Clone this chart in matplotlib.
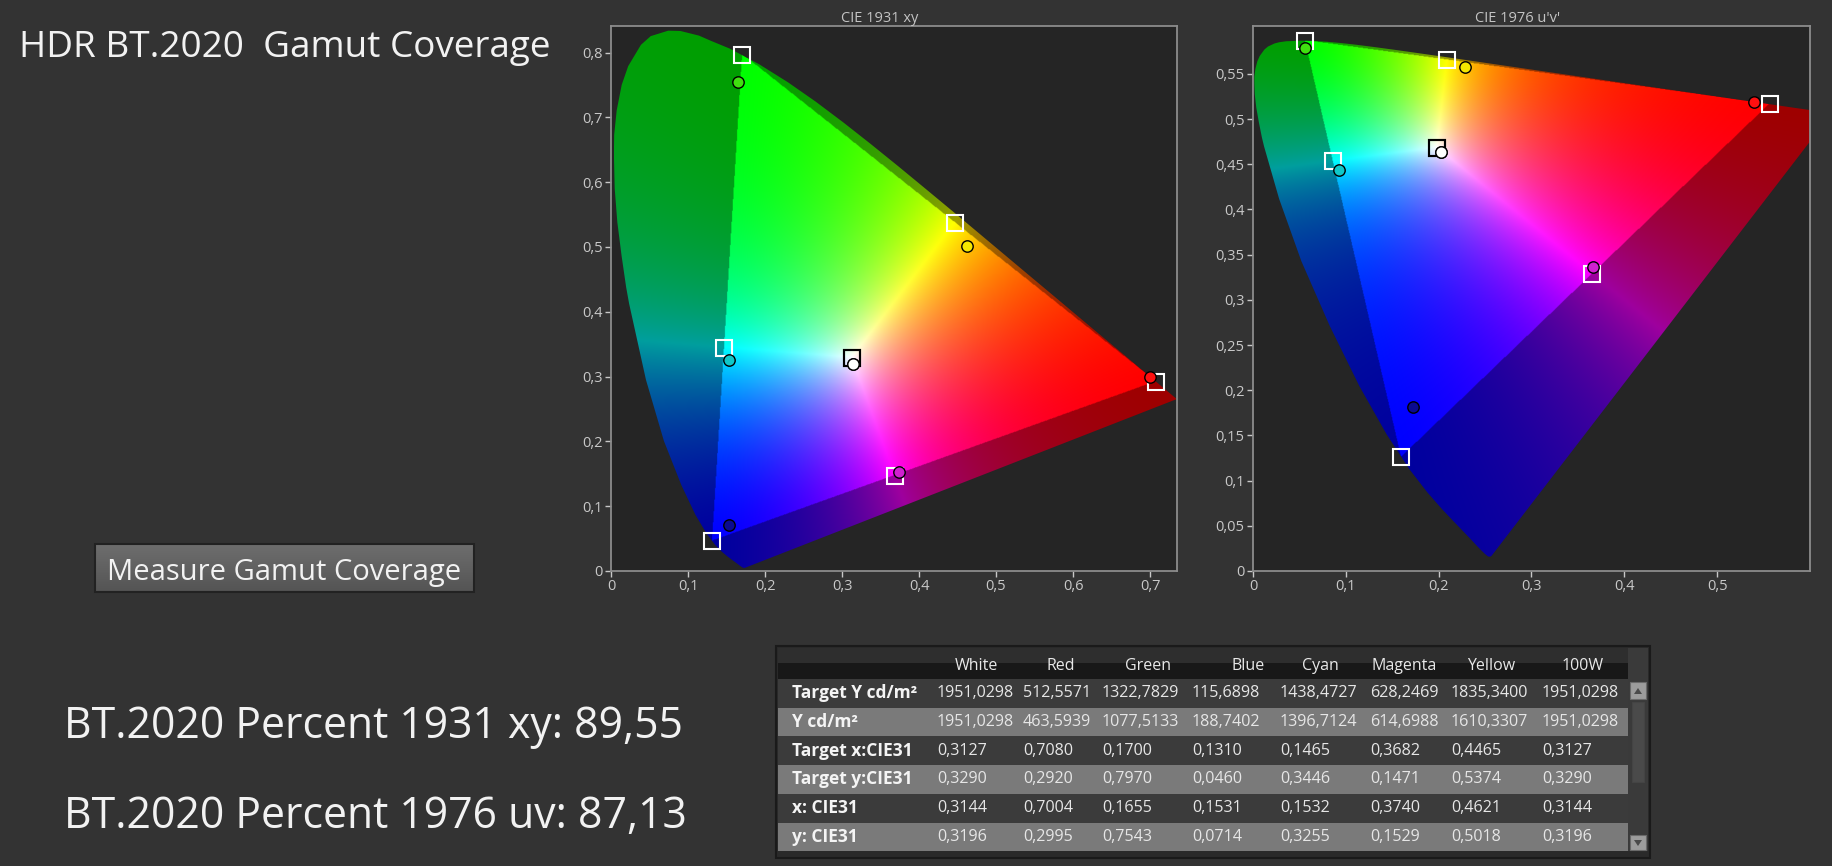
import numpy as np
import matplotlib
matplotlib.use("Agg")
import matplotlib.pyplot as plt
from matplotlib.patches import Polygon, Rectangle
from matplotlib.ticker import FuncFormatter

plt.rcParams['font.family'] = ['Open Sans', 'DejaVu Sans']

# CIE 1931 2-degree spectral locus, 380..700 nm (denser around the green peak)
LOCUS_X = [0.1741, 0.1740, 0.1738, 0.1736, 0.1733, 0.1730, 0.1726, 0.1721, 0.1714,
           0.1703, 0.1689, 0.1669, 0.1644, 0.1611, 0.1566, 0.1510, 0.1440, 0.1355,
           0.1241, 0.1096, 0.0913, 0.0687, 0.0454, 0.0235, 0.0197, 0.0138, 0.0082,
           0.0048, 0.0039, 0.0039, 0.0041, 0.0074, 0.0139, 0.0223, 0.0389, 0.0516,
           0.0743, 0.0902, 0.1142, 0.1298, 0.1547, 0.1929, 0.2296, 0.2658, 0.3016,
           0.3373, 0.3731, 0.4087, 0.4441, 0.4788, 0.5125, 0.5448, 0.5752, 0.6029,
           0.6270, 0.6482, 0.6658, 0.6801, 0.6915, 0.7006, 0.7079, 0.7140, 0.7190,
           0.7230, 0.7260, 0.7300, 0.7334, 0.7347]
LOCUS_Y = [0.0050, 0.0050, 0.0049, 0.0049, 0.0048, 0.0048, 0.0048, 0.0048, 0.0051,
           0.0058, 0.0069, 0.0086, 0.0109, 0.0138, 0.0177, 0.0227, 0.0297, 0.0399,
           0.0578, 0.0868, 0.1327, 0.2007, 0.2950, 0.4127, 0.4377, 0.4859, 0.5384,
           0.5903, 0.6355, 0.6548, 0.6731, 0.7108, 0.7502, 0.7790, 0.8120, 0.8254,
           0.8338, 0.8333, 0.8262, 0.8181, 0.8059, 0.7816, 0.7543, 0.7243, 0.6923,
           0.6589, 0.6245, 0.5896, 0.5547, 0.5202, 0.4866, 0.4544, 0.4242, 0.3965,
           0.3725, 0.3514, 0.3340, 0.3197, 0.3083, 0.2993, 0.2920, 0.2859, 0.2809,
           0.2770, 0.2740, 0.2700, 0.2666, 0.2653]

# XYZ -> BT.2020 linear RGB
M2020 = np.array([[1.7166512, -0.3556708, -0.2533663],
                  [-0.6666844, 1.6164812, 0.0157685],
                  [0.0176399, -0.0427706, 0.9421031]])

COLUMNS = ["White", "Red", "Green", "Blue", "Cyan", "Magenta", "Yellow", "100W"]
TARGET_LUM = [1951.0298, 512.5571, 1322.7829, 115.6898, 1438.4727, 628.2469, 1835.3400, 1951.0298]
MEAS_LUM = [1951.0298, 463.5939, 1077.5133, 188.7402, 1396.7124, 614.6988, 1610.3307, 1951.0298]
TARGET_X = [0.3127, 0.7080, 0.1700, 0.1310, 0.1465, 0.3682, 0.4465, 0.3127]
TARGET_Y = [0.3290, 0.2920, 0.7970, 0.0460, 0.3446, 0.1471, 0.5374, 0.3290]
MEAS_X = [0.3144, 0.7004, 0.1655, 0.1531, 0.1532, 0.3740, 0.4621, 0.3144]
MEAS_Y = [0.3196, 0.2995, 0.7543, 0.0714, 0.3255, 0.1529, 0.5018, 0.3196]
ROW_LABELS = ["Target Y cd/m²", "Y cd/m²", "Target x:CIE31", "Target y:CIE31", "x: CIE31", "y: CIE31"]
MEAS_COLORS = ["#ffffff", "#ff1010", "#40e010", "#0a0a90", "#10c8c8", "#d020d0", "#f5e800", "#ffffff"]
TARGET_EDGE = ["black", "white", "white", "white", "white", "white", "white", "black"]

COVERAGE_XY = 89.55
COVERAGE_UV = 87.13

BG = "#333333"
PLOT_BG = "#252525"
TICK_C = "#c8c8c8"


def comma(v, nd=None):
    s = f"{v:g}" if nd is None else f"{v:.{nd}f}"
    return s.replace(".", ",")


def xy_to_uv(x, y):
    x = np.asarray(x, float)
    y = np.asarray(y, float)
    d = -2 * x + 12 * y + 3
    return 4 * x / d, 9 * y / d


def uv_to_xy(u, v):
    d = 6 * u - 16 * v + 12
    return 9 * u / d, 4 * v / d


def gamut_rgb(px, py, dim=0.62, gamma=1.35):
    yy = np.where(py > 1e-4, py, 1e-4)
    XYZ = np.stack([px / yy, np.ones_like(px), (1 - px - py) / yy], -1)
    rgb = XYZ @ M2020.T
    inside = (rgb >= 0).all(-1)
    rgb = np.clip(rgb, 0, None)
    rgb = rgb / np.maximum(rgb.max(-1, keepdims=True), 1e-9)
    rgb = rgb ** gamma
    rgb[~inside] *= dim
    return np.clip(rgb, 0, 1)


def style_axes(ax, title, xt, yt, xlim, ylim):
    ax.set_facecolor(PLOT_BG)
    ax.set_xlim(*xlim)
    ax.set_ylim(*ylim)
    ax.set_xticks(xt)
    ax.set_yticks(yt)
    fmt = FuncFormatter(lambda v, p: comma(round(v, 3)))
    ax.xaxis.set_major_formatter(fmt)
    ax.yaxis.set_major_formatter(fmt)
    ax.tick_params(direction="out", length=4, width=1, color=TICK_C,
                   labelcolor=TICK_C, labelsize=10.5, pad=2)
    for sp in ax.spines.values():
        sp.set_color("#8c8c8c")
        sp.set_linewidth(1.3)
    ax.set_title(title, color="#c4c4c4", fontsize=10.5, pad=3, x=0.475)


def draw_points(ax, tx, ty, mx, my):
    for i in range(len(tx)):
        ax.plot(tx[i], ty[i], marker="s", ms=11.5, mfc="none",
                mec=TARGET_EDGE[i], mew=1.5, zorder=5)
    for i in range(len(mx)):
        ax.plot(mx[i], my[i], marker="o", ms=8.2, mfc=MEAS_COLORS[i],
                mec="black", mew=1.0, zorder=6)


W, H = 1833, 866
fig = plt.figure(figsize=(W / 100, H / 100), dpi=100)
fig.patch.set_facecolor(BG)

# overlay in pixel coordinates for texts, button, table
ov = fig.add_axes([0, 0, 1, 1])
ov.axis("off")

ov.text(19, 57, "HDR BT.2020  Gamut Coverage", fontsize=26.6, color="#f2f2f2", va="baseline")

# button
grad = np.linspace(0.43, 0.33, 40)[:, None] * np.ones((1, 2))
ov.imshow(np.dstack([grad, grad, grad]), extent=[95, 474, 592, 544], aspect="auto", zorder=1)
ov.add_patch(Rectangle((95, 544), 379, 48, fill=False, ec="#222222", lw=1.5, zorder=2))
ov.text(107, 580, "Measure Gamut Coverage", fontsize=21, color="#f2f2f2", va="baseline", zorder=3)

ov.text(64, 738, f"BT.2020 Percent 1931 xy: {comma(COVERAGE_XY, 2)}", fontsize=30.8,
        color="#f2f2f2", va="baseline")
ov.text(64, 828, f"BT.2020 Percent 1976 uv: {comma(COVERAGE_UV, 2)}", fontsize=30.8,
        color="#f2f2f2", va="baseline")

# table
tx0, tx1 = 778, 1628
ov.add_patch(Rectangle((776, 646), 874, 212, fc="#2a2a2a", ec="#1a1a1a", lw=1.5))
ov.add_patch(Rectangle((tx0, 648), tx1 - tx0, 15, fc="#2e2e2e", ec="none"))
ov.add_patch(Rectangle((tx0, 663), tx1 - tx0, 16, fc="#181818", ec="none"))
ov.add_patch(Rectangle((tx1, 648), 20, 31, fc="#3a3a3a", ec="none"))
head_x = [976, 1061, 1148, 1248, 1320, 1404, 1491, 1583]
val_x = [937, 1023, 1102, 1192, 1280, 1370, 1451, 1542]
for c, name in enumerate(COLUMNS):
    ov.text(head_x[c], 666, name, fontsize=11.5, color="#e8e8e8", ha="center", va="center")

rows = [
    [comma(v, 4) for v in TARGET_LUM],
    [comma(v, 4) for v in MEAS_LUM],
    [comma(v, 4) for v in TARGET_X],
    [comma(v, 4) for v in TARGET_Y],
    [comma(v, 4) for v in MEAS_X],
    [comma(v, 4) for v in MEAS_Y],
]
rh = 28.7
for r, vals in enumerate(rows):
    y0 = 679 + r * rh
    ov.add_patch(Rectangle((tx0, y0), tx1 - tx0, rh,
                           fc="#3b3b3b" if r % 2 == 0 else "#7a7a7a", ec="none"))
    yc = y0 + rh / 2
    ov.text(792, yc, ROW_LABELS[r], fontsize=12.5, fontweight="bold", color="#f4f4f4", va="center")
    for c, s in enumerate(vals):
        ov.text(val_x[c], yc, s, fontsize=11.6, color="#e6e6e6", va="center")

# scrollbar
ov.add_patch(Rectangle((tx1, 679), 20, 172, fc="#3a3a3a", ec="none"))
ov.add_patch(Rectangle((tx1 + 2, 682), 16, 17, fc="#9c9c9c", ec="#6a6a6a", lw=0.8))
ov.add_patch(Rectangle((tx1 + 2, 835), 16, 15, fc="#9c9c9c", ec="#6a6a6a", lw=0.8))
ov.add_patch(Rectangle((tx1 + 4, 702), 12, 80, fc="#4a4a4a", ec="#444444", lw=0.8))
ov.add_patch(Polygon([[tx1 + 6, 694], [tx1 + 14, 694], [tx1 + 10, 688]], fc="#4a4a4a", ec="none"))
ov.add_patch(Polygon([[tx1 + 6, 840], [tx1 + 14, 840], [tx1 + 10, 846]], fc="#4a4a4a", ec="none"))
ov.set_xlim(0, W)
ov.set_ylim(H, 0)

# --- CIE 1931 xy ---
ax1 = fig.add_axes([611 / W, 1 - 571 / H, (1177 - 611) / W, (571 - 26) / H])
xlim1, ylim1 = (0, 0.735), (0, 0.841)
gx, gy = np.meshgrid(np.linspace(0, 0.74, 800), np.linspace(0.001, 0.85, 900))
im1 = ax1.imshow(gamut_rgb(gx, gy), origin="lower", extent=[0, 0.74, 0.001, 0.85],
                 aspect="auto", interpolation="bilinear", zorder=1)
clip1 = Polygon(np.column_stack([LOCUS_X, LOCUS_Y]), closed=True,
                transform=ax1.transData, fc="none", ec="none")
ax1.add_patch(clip1)
im1.set_clip_path(clip1)
draw_points(ax1, TARGET_X, TARGET_Y, MEAS_X, MEAS_Y)
style_axes(ax1, "CIE 1931 xy", np.arange(0, 0.75, 0.1), np.arange(0, 0.85, 0.1), xlim1, ylim1)

# --- CIE 1976 u'v' ---
ax2 = fig.add_axes([1253 / W, 1 - 571 / H, (1810 - 1253) / W, (571 - 26) / H])
xlim2, ylim2 = (0, 0.6), (0, 0.603)
gu, gv = np.meshgrid(np.linspace(0, 0.6, 800), np.linspace(0.001, 0.61, 800))
ux, uy = uv_to_xy(gu, gv)
im2 = ax2.imshow(gamut_rgb(ux, uy), origin="lower", extent=[0, 0.6, 0.001, 0.61],
                 aspect="auto", interpolation="bilinear", zorder=1)
lu, lv = xy_to_uv(LOCUS_X, LOCUS_Y)
clip2 = Polygon(np.column_stack([lu, lv]), closed=True,
                transform=ax2.transData, fc="none", ec="none")
ax2.add_patch(clip2)
im2.set_clip_path(clip2)
tu, tv = xy_to_uv(TARGET_X, TARGET_Y)
mu, mv = xy_to_uv(MEAS_X, MEAS_Y)
draw_points(ax2, tu, tv, mu, mv)
style_axes(ax2, "CIE 1976 u'v'", np.arange(0, 0.55, 0.1), np.arange(0, 0.56, 0.05), xlim2, ylim2)

fig.savefig("out.png", dpi=100, facecolor=BG)
